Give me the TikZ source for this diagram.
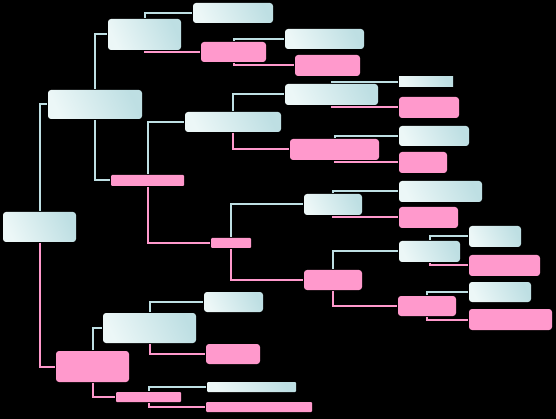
\documentclass[tikz,border=0pt]{standalone}
\usepackage{tikz}
\tikzset{every picture/.style={line width=2pt}}
\definecolor{liteA}{RGB}{236,247,247}
\definecolor{liteB}{RGB}{190,223,227}
\definecolor{rose}{RGB}{255,153,204}
\tikzset{
  wh/.style 2 args={minimum width=#1,minimum height=#2},
  lite/.style={inner sep=0pt,rounded corners=3pt,left color=liteA,right color=liteB,shading angle=115},
  rosebox/.style={inner sep=0pt,rounded corners=3pt,fill=rose},
  litewire/.style={draw=liteB},
  rosewire/.style={draw=rose}
}

\begin{document}
\begin{tikzpicture}[x=1pt,y=1pt,yscale=-1]
		\useasboundingbox[fill=black] (0,0) rectangle (556,419);
		
		%Root and first level
		\node[lite,wh={73pt}{30pt}] (root) at (39.5,227) {};
		\node[lite,wh={94pt}{29pt}] (n1) at (95,104.5) {};
		\node[rosebox,wh={73pt}{31pt}] (n2) at (92.5,366.5) {};
		
		%Upper branch
		\node[lite,wh={73pt}{31pt}] (n11) at (144.5,34.5) {};
		\node[rosebox,wh={73pt}{11pt},rounded corners=1pt] (n12) at (147.5,180.5) {};
		\node[lite,wh={80pt}{20pt}] (n111) at (233,13) {};
		\node[rosebox,wh={65pt}{20pt}] (n112) at (233.5,52) {};
		\node[lite,wh={79pt}{20pt}] (n1121) at (324.5,39) {};
		\node[rosebox,wh={65pt}{21pt}] (n1122) at (327.5,65.5) {};
		
		\node[lite,wh={96pt}{20pt}] (n121) at (233,122) {};
		\node[rosebox,wh={40pt}{10pt},rounded corners=1pt] (n122) at (231,243) {};
		\node[lite,wh={93pt}{21pt}] (n1211) at (331.5,94.5) {};
		\node[rosebox,wh={89pt}{21pt}] (n1212) at (334.5,149.5) {};
		\node[lite,wh={54pt}{10pt},rounded corners=0pt] (n12111) at (426,82) {};
		\node[rosebox,wh={60pt}{21pt}] (n12112) at (429,107.5) {};
		\node[lite,wh={70pt}{20pt}] (n12121) at (434,136) {};
		\node[rosebox,wh={48pt}{21pt}] (n12122) at (423,162.5) {};
		
		\node[lite,wh={58pt}{21pt}] (n1221) at (333,204.5) {};
		\node[rosebox,wh={58pt}{20pt}] (n1222) at (333,280) {};
		\node[lite,wh={83pt}{21pt}] (n12211) at (440.5,191.5) {};
		\node[rosebox,wh={59pt}{21pt}] (n12212) at (428.5,217.5) {};
		\node[lite,wh={61pt}{21pt}] (n12221) at (429.5,251.5) {};
		\node[rosebox,wh={58pt}{20pt}] (n12222) at (427,306) {};
		\node[lite,wh={52pt}{21pt}] (n122211) at (495,236.5) {};
		\node[rosebox,wh={71pt}{21pt}] (n122212) at (504.5,265.5) {};
		\node[lite,wh={62pt}{20pt}] (n122221) at (500,292) {};
		\node[rosebox,wh={83pt}{21pt}] (n122222) at (510.5,319.5) {};
		
		%Lower branch
		\node[lite,wh={93pt}{30pt}] (n21) at (149.5,328) {};
		\node[rosebox,wh={65pt}{10pt},rounded corners=1pt] (n22) at (148.5,397) {};
		\node[lite,wh={59pt}{20pt}] (n211) at (233.5,302) {};
		\node[rosebox,wh={54pt}{20pt}] (n212) at (233,354) {};
		\node[lite,wh={89pt}{10pt},rounded corners=1pt] (n221) at (251.5,387) {};
		\node[rosebox,wh={106pt}{10pt},rounded corners=1pt] (n222) at (259,407) {};
		
		%Connectors
		\draw[litewire] (root.north) |- (n1.west);
		\draw[rosewire] (root.south) |- (n2.west);
		\draw[litewire] (n1.north) |- (n11.west);
		\draw[litewire] (n1.south) |- (n12.west);
		\draw[litewire] (n11.north) |- (n111.west);
		\draw[rosewire] (n11.south) |- (n112.west);
		\draw[litewire] (n112.north) |- (n1121.west);
		\draw[rosewire] (n112.south) |- (n1122.west);
		\draw[litewire] (n12.north) |- (n121.west);
		\draw[rosewire] (n12.south) |- (n122.west);
		\draw[litewire] (n121.north) |- (n1211.west);
		\draw[rosewire] (n121.south) |- (n1212.west);
		\draw[litewire] (n1211.north) |- (n12111.west);
		\draw[rosewire] (n1211.south) |- (n12112.west);
		\draw[litewire] (n1212.north) |- (n12121.west);
		\draw[rosewire] (n1212.south) |- (n12122.west);
		\draw[litewire] (n122.north) |- (n1221.west);
		\draw[rosewire] (n122.south) |- (n1222.west);
		\draw[litewire] (n1221.north) |- (n12211.west);
		\draw[rosewire] (n1221.south) |- (n12212.west);
		\draw[litewire] (n1222.north) |- (n12221.west);
		\draw[rosewire] (n1222.south) |- (n12222.west);
		\draw[litewire] (n12221.north) |- (n122211.west);
		\draw[rosewire] (n12221.south) |- (n122212.west);
		\draw[litewire] (n12222.north) |- (n122221.west);
		\draw[rosewire] (n12222.south) |- (n122222.west);
		\draw[litewire] (n2.north) |- (n21.west);
		\draw[rosewire] (n2.south) |- (n22.west);
		\draw[litewire] (n21.north) |- (n211.west);
		\draw[rosewire] (n21.south) |- (n212.west);
		\draw[litewire] (n22.north) |- (n221.west);
		\draw[rosewire] (n22.south) |- (n222.west);
		\end{tikzpicture}
\end{document}
